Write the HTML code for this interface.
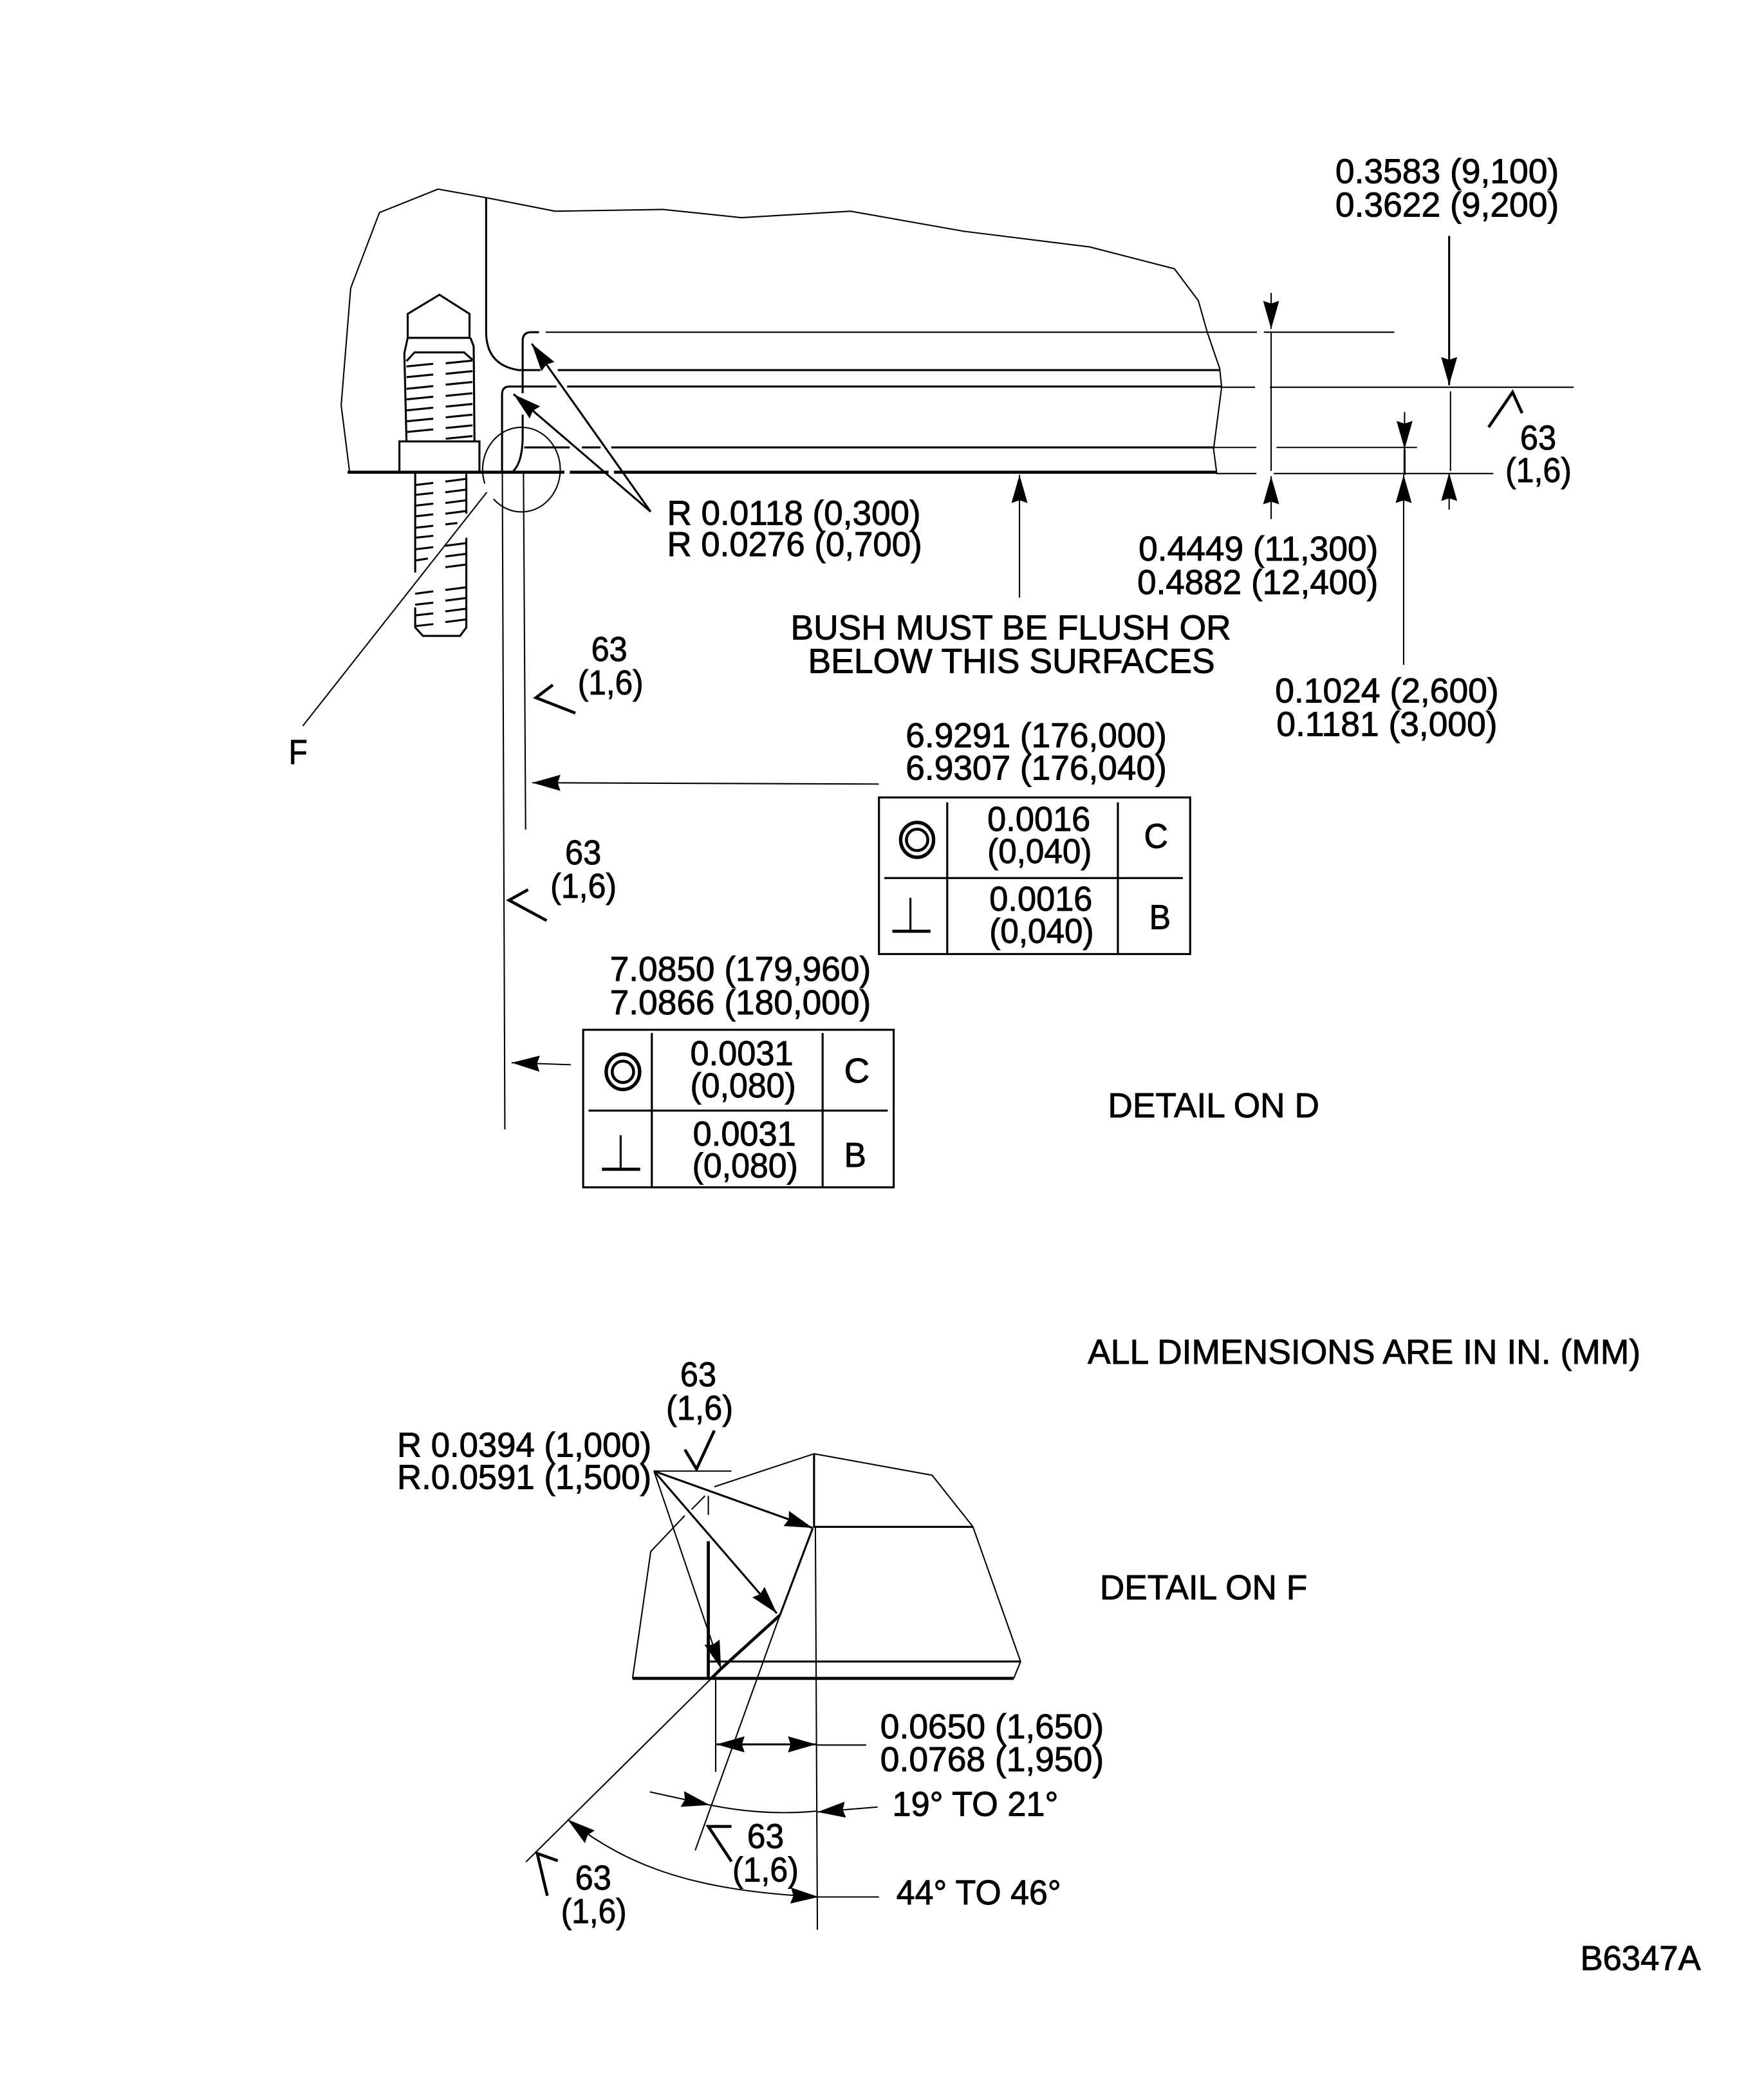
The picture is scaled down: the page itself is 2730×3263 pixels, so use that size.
<!DOCTYPE html>
<html>
<head>
<meta charset="utf-8">
<style>
html,body{margin:0;padding:0;background:#fff}
svg{display:block}
text{font-family:"Liberation Sans",sans-serif;font-size:26px;fill:#000;stroke:#000;stroke-width:.45}
.t{fill:none;stroke:#000;stroke-width:1}
.m{fill:none;stroke:#000;stroke-width:1.5}
.k{fill:none;stroke:#000;stroke-width:2.3}
.c{fill:none;stroke:#000;stroke-width:2.2}
</style>
</head>
<body>
<svg xmlns="http://www.w3.org/2000/svg" width="2730" height="3263" viewBox="0 0 1312.7 1569">
<defs>
<marker id="a" viewBox="0 0 21 12" refX="21" refY="6" markerWidth="21" markerHeight="12" markerUnits="userSpaceOnUse" orient="auto-start-reverse"><polygon points="0,0 21,6 0,12 2,6" fill="#000"/></marker>
</defs>
<rect width="1312.7" height="1569" fill="#fff"/>
<g transform="translate(.7 .8)">

<!-- Main outline -->
<path class="t" d="M260.5 352L254.2 302L261.3 214.5L282.8 158L326.6 140.5L363 147L414 157L494.6 155.7L553.2 161.8L634.8 157L719.5 172L813.5 183.7L876.7 200L894.6 223.8L901.3 247.5L910.6 274.6L912 288.5L906 334.7L908.4 353"/>
<path class="k" d="M259 352H421M425 352H454M458 352H908"/>
<path class="m" d="M362.5 146.6V247Q362.5 272 386.7 275.7H403M416 275.7H910.6"/>
<path class="m" d="M374.4 352V294Q374.4 288 380 288H415M423 288H912"/>
<path class="m" d="M391 333.5H425M434 333.5H448M456 333.5H906"/>
<path class="m" d="M389.8 293V254Q389.8 247.4 396 247.4H402"/>
<path class="m" d="M389.8 309V325Q389.8 345 382 352"/>
<path class="t" d="M407 247.4H938.4M943.5 247.4H1041"/>
<path class="t" d="M912 288.5H937M948 288.5H1175"/>
<path class="t" d="M906 333.5H938M953 333.5H1058"/>
<path class="t" d="M908 353H938M951 353H1115"/>
<path class="t" d="M374.6 352L376.5 843M390.4 352L392 619"/>

<!-- Circle F -->
<path class="t" d="M361.5 360.5A29 31.6 0 1 1 368 372"/>
<path class="t" d="M363 367L225.5 541.6"/>

<!-- Bolt -->
<g transform="translate(1 1)">
<path class="m" d="M302.9 250.6V232.7L326.6 218.4L349.1 232.7V250.6Z"/>
<path class="m" d="M302.9 250.6L300.4 262L302 328.6M349.8 250.6L352.2 257L352.8 328.6"/>
<path class="m" d="M302 268L308 261.5H345L351.3 267"/>
<rect class="m" x="296.7" y="328" width="59.8" height="23"/>
<path class="m" d="M302 272L322 270M302 280L322 278M302 288.7L322 286.7M302 296.6L322 294.6M302 304.8L322 302.8M302 313L322 311M302 321L322 319M331.3 269.6L351.3 267.6M331.3 277.5L351.3 275.5M331.3 285.6L351.3 283.6M331.3 294L351.3 292M331.3 302L351.3 300M331.3 310L351.3 308M331.3 318L351.3 316M331.3 326L351.3 324"/>
<path class="m" d="M308.5 351V426M308.5 452V467L314.3 473.3H342L346.7 467V400M346.7 382V351"/>
<path class="m" d="M308.5 360.6L322 359M308.5 368L322 366.5M308.5 376L322 374.5M308.5 384L322 382.5M308.5 392.5L322 391M308.5 400L322 398.5M308.5 408.6L322 407M308.5 417L318 415.5M308.5 441.8L322 440M308.5 450L322 448.5M308.5 458L322 456.5M308.5 466L322 464.5M331 358L346.5 356M331 366L346.5 364M331 374L346.5 372M331 382L346.5 380M331 390L340 389M331 406L346.5 404M331 414L346.5 412M331 422L346.5 420M331 439L346.5 437M331 447L346.5 445M331 455L346.5 453M331 463L346.5 461"/>
</g>

<!-- R leaders -->
<path class="m" d="M485.4 381.5L396.6 256" marker-end="url(#a)"/>
<path class="m" d="M485.4 381.5L383 293.7" marker-end="url(#a)"/>

<!-- Right dimensions -->
<path class="t" d="M949 218V245" marker-end="url(#a)"/>
<path class="t" d="M949 248V351"/>
<path class="t" d="M949 387V355" marker-end="url(#a)"/>
<path class="m" d="M1082 175.4V287" marker-end="url(#a)"/>
<path class="t" d="M1083 291.6V351"/>
<path class="t" d="M1082 380V352.5" marker-end="url(#a)"/>
<path class="t" d="M1048.7 307V334.7" marker-end="url(#a)"/>
<path class="m" d="M1048.7 334.7V354"/>
<path class="t" d="M1048 496V354" marker-end="url(#a)"/>
<path class="t" d="M761 445.7V354" marker-end="url(#a)"/>

<!-- Surface marks -->
<path class="c" d="M1111.5 318.4L1129.4 292.2L1136.5 307.9"/>
<path class="c" d="M412.3 510.9L399.7 520.5L429.2 532"/>
<path class="c" d="M393.8 663.9L379.6 671.8L407.7 687"/>

<!-- Leaders to surfaces -->
<path class="t" d="M655.8 585L397 584" marker-end="url(#a)"/>
<path class="t" d="M425.8 794.7L381.5 793.2" marker-end="url(#a)"/>

<!-- Table 1 -->
<rect class="m" x="656" y="595" width="232.5" height="117"/>
<path class="m" d="M707 598.7V712M834.5 598.7V712M660 655.2H883"/>
<ellipse class="c" cx="684.5" cy="626.7" rx="12.3" ry="13" style="stroke-width:2.6"/>
<ellipse class="c" cx="684.5" cy="626.7" rx="8" ry="8"/>
<path class="m" d="M679.5 670V695"/>
<path class="k" d="M666 695H694.5"/>

<!-- Table 2 -->
<rect class="m" x="435" y="768.6" width="232" height="117.7"/>
<path class="m" d="M486.3 771V886.3M613.9 771V886.3M439 829H662.5"/>
<ellipse class="c" cx="464.7" cy="800" rx="12.5" ry="13.2" style="stroke-width:2.6"/>
<ellipse class="c" cx="464.7" cy="800" rx="8" ry="8"/>
<path class="m" d="M463 847.4V872.8"/>
<path class="k" d="M449 872.8H477.6"/>

<!-- Detail F shape -->
<path class="t" d="M533 1110L607.5 1085.4L695.7 1101.4L726.2 1139.9L761.8 1240.6L756.7 1253.2"/>
<path class="t" d="M471.9 1253.2L485.5 1158.4L510.9 1131.6M516 1127L526 1116.8"/>
<path class="m" d="M607.5 1085.4V1140H726.2"/>
<path class="m" d="M529.6 1240.6H761.8"/>
<path class="k" d="M471.9 1253.2H756.7"/>
<path class="t" d="M528.5 1116.8V1131"/>
<path class="k" d="M528.5 1150.7V1253"/>
<path class="t" d="M534 1253V1323"/>
<path class="t" d="M608.5 1140L610 1441"/>
<path class="m" d="M606.5 1141L582 1206"/>
<path class="k" d="M582 1206L538 1246L531 1253"/>
<path class="t" d="M582 1206L518.7 1381.7"/>
<path class="t" d="M531 1253L392.3 1390.3"/>

<!-- Detail F leaders -->
<path class="t" d="M487.9 1098.3H545.8"/>
<path class="m" d="M487.9 1098.3L606.5 1140.8" marker-end="url(#a)"/>
<path class="m" d="M487.9 1098.3L579.7 1204.6" marker-end="url(#a)"/>
<path class="t" d="M487.9 1098.3L538 1246" marker-end="url(#a)"/>

<!-- Detail F dimensions -->
<path class="m" d="M572 1302.5L534.6 1302.5" marker-end="url(#a)"/>
<path class="m" d="M572 1302.5L609 1302.5" marker-end="url(#a)"/>
<path class="t" d="M609 1303H646.5"/>
<path class="t" d="M484.8 1338L529.6 1347.8" marker-end="url(#a)"/>
<path class="t" d="M529.6 1347.8Q570 1356 609 1352.4"/>
<path class="t" d="M655 1349.3L610 1353" marker-end="url(#a)"/>
<path class="t" d="M611 1416.5C520 1412 470 1395 423.4 1358.6" marker-end="url(#a)" marker-start="url(#a)"/>
<path class="t" d="M611 1416.5H656"/>

<!-- Detail F marks -->
<path class="c" d="M511 1082.3L519.7 1096.8L533 1068"/>
<path class="c" d="M545.8 1363.8H528.5L545.8 1390"/>
<path class="c" d="M416 1389.4L400.7 1384L408.2 1415.6"/>

<!-- Text -->
<text x="997" y="136" textLength="167" lengthAdjust="spacingAndGlyphs">0.3583 (9,100)</text>
<text x="997" y="161" textLength="167" lengthAdjust="spacingAndGlyphs">0.3622 (9,200)</text>
<text x="497.7" y="391.3" textLength="189.5" lengthAdjust="spacingAndGlyphs">R 0.0118 (0,300)</text>
<text x="497.7" y="414.6" textLength="190.5" lengthAdjust="spacingAndGlyphs">R 0.0276 (0,700)</text>
<text x="850" y="418" textLength="179" lengthAdjust="spacingAndGlyphs">0.4449 (11,300)</text>
<text x="849" y="443" textLength="180" lengthAdjust="spacingAndGlyphs">0.4882 (12,400)</text>
<text x="590" y="477" textLength="329" lengthAdjust="spacingAndGlyphs">BUSH MUST BE FLUSH OR</text>
<text x="603" y="502" textLength="304" lengthAdjust="spacingAndGlyphs">BELOW THIS SURFACES</text>
<text x="952" y="524" textLength="167" lengthAdjust="spacingAndGlyphs">0.1024 (2,600)</text>
<text x="953" y="549" textLength="165" lengthAdjust="spacingAndGlyphs">0.1181 (3,000)</text>
<text x="1135" y="335" textLength="27" lengthAdjust="spacingAndGlyphs">63</text>
<text x="1124" y="359.4" textLength="49.5" lengthAdjust="spacingAndGlyphs">(1,6)</text>
<text x="441" y="493" textLength="27" lengthAdjust="spacingAndGlyphs">63</text>
<text x="431" y="518" textLength="49" lengthAdjust="spacingAndGlyphs">(1,6)</text>
<text x="215" y="570" textLength="14" lengthAdjust="spacingAndGlyphs">F</text>
<text x="676" y="557.4" textLength="195" lengthAdjust="spacingAndGlyphs">6.9291 (176,000)</text>
<text x="676" y="581.7" textLength="195" lengthAdjust="spacingAndGlyphs">6.9307 (176,040)</text>
<text x="737" y="620" textLength="77" lengthAdjust="spacingAndGlyphs">0.0016</text>
<text x="737" y="644" textLength="78" lengthAdjust="spacingAndGlyphs">(0,040)</text>
<text x="854" y="632.7" textLength="18" lengthAdjust="spacingAndGlyphs">C</text>
<text x="738.5" y="679.5" textLength="77" lengthAdjust="spacingAndGlyphs">0.0016</text>
<text x="738.5" y="703.6" textLength="78" lengthAdjust="spacingAndGlyphs">(0,040)</text>
<text x="858" y="693.4" textLength="16" lengthAdjust="spacingAndGlyphs">B</text>
<text x="421.5" y="645" textLength="27" lengthAdjust="spacingAndGlyphs">63</text>
<text x="410.5" y="670" textLength="49.5" lengthAdjust="spacingAndGlyphs">(1,6)</text>
<text x="455" y="732" textLength="195" lengthAdjust="spacingAndGlyphs">7.0850 (179,960)</text>
<text x="455" y="757" textLength="195" lengthAdjust="spacingAndGlyphs">7.0866 (180,000)</text>
<text x="515" y="795" textLength="77" lengthAdjust="spacingAndGlyphs">0.0031</text>
<text x="515" y="819" textLength="79" lengthAdjust="spacingAndGlyphs">(0,080)</text>
<text x="630" y="808" textLength="19" lengthAdjust="spacingAndGlyphs">C</text>
<text x="517" y="855" textLength="77" lengthAdjust="spacingAndGlyphs">0.0031</text>
<text x="516.5" y="879" textLength="79" lengthAdjust="spacingAndGlyphs">(0,080)</text>
<text x="630" y="871" textLength="16.5" lengthAdjust="spacingAndGlyphs">B</text>
<text x="827" y="834" textLength="158" lengthAdjust="spacingAndGlyphs">DETAIL ON D</text>
<text x="812" y="1018" textLength="413" lengthAdjust="spacingAndGlyphs">ALL DIMENSIONS ARE IN IN. (MM)</text>
<text x="821" y="1194" textLength="155" lengthAdjust="spacingAndGlyphs">DETAIL ON F</text>
<text x="1180" y="1471" textLength="90" lengthAdjust="spacingAndGlyphs">B6347A</text>
<text x="507.5" y="1035" textLength="27" lengthAdjust="spacingAndGlyphs">63</text>
<text x="497" y="1060" textLength="50" lengthAdjust="spacingAndGlyphs">(1,6)</text>
<text x="296" y="1087.5" textLength="190" lengthAdjust="spacingAndGlyphs">R 0.0394 (1,000)</text>
<text x="296" y="1111.6" textLength="190" lengthAdjust="spacingAndGlyphs">R.0.0591 (1,500)</text>
<text x="657" y="1298" textLength="167" lengthAdjust="spacingAndGlyphs">0.0650 (1,650)</text>
<text x="657" y="1322.5" textLength="167" lengthAdjust="spacingAndGlyphs">0.0768 (1,950)</text>
<text x="666" y="1356" textLength="124" lengthAdjust="spacingAndGlyphs">19° TO 21°</text>
<text x="669" y="1422" textLength="123" lengthAdjust="spacingAndGlyphs">44° TO 46°</text>
<text x="557.5" y="1380" textLength="27.5" lengthAdjust="spacingAndGlyphs">63</text>
<text x="546.5" y="1405" textLength="49.5" lengthAdjust="spacingAndGlyphs">(1,6)</text>
<text x="429" y="1411" textLength="27" lengthAdjust="spacingAndGlyphs">63</text>
<text x="418.5" y="1436" textLength="49" lengthAdjust="spacingAndGlyphs">(1,6)</text>
</g>
</svg>
</body>
</html>
